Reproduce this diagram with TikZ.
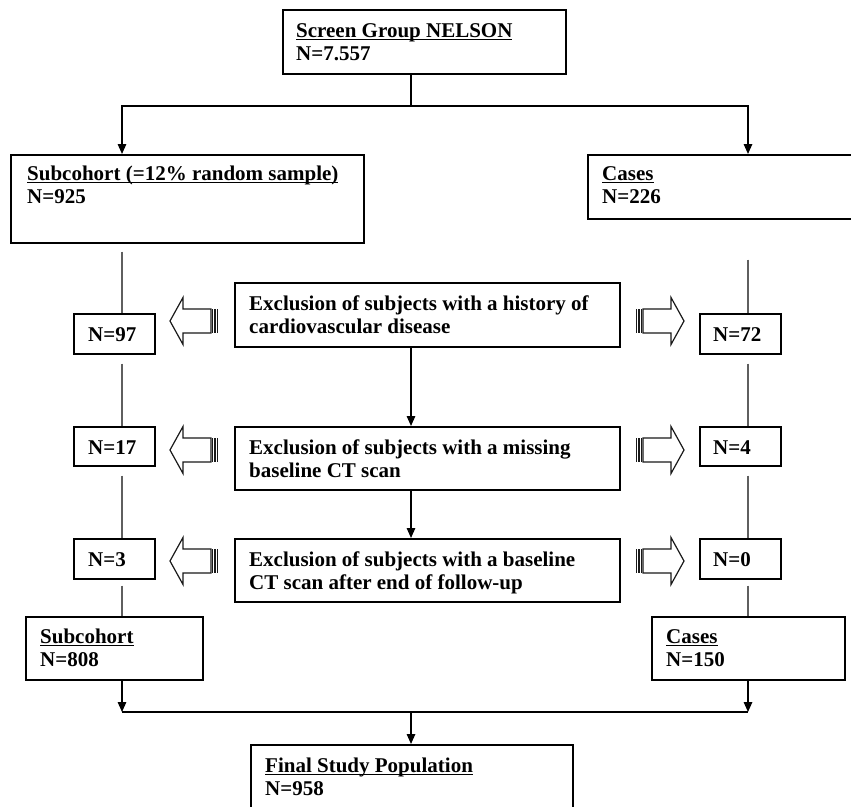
\documentclass[tikz,border=0pt]{standalone}
\usepackage{fontspec}
\setmainfont{Liberation Serif}
\usetikzlibrary{arrows.meta,calc}
\newcommand\myul[1]{\setbox0\hbox{#1}\rlap{\rule[-3.2pt]{\wd0}{1.6pt}}\box0}
\newcommand\twolines[2]{\begin{tabular}[t]{@{}l@{}}#1\\#2\end{tabular}}
\definecolor{lgray}{RGB}{95,95,95}
\begin{document}
\begin{tikzpicture}[x=1pt,y=-1pt,
  box/.style={draw=black,line width=1.6pt,rectangle,inner sep=0pt,anchor=north west},
  txt/.style={inner sep=0pt,anchor=base west,font=\fontsize{21}{23.5}\selectfont\bfseries},
  arr/.style={line width=1.5pt,-{Triangle[length=10pt,width=8.5pt]}},
  plainline/.style={line width=1.4pt},
  grayline/.style={draw=lgray,line width=1.1pt},
  hollow/.style={draw=black!90,line width=1.2pt,fill=white,line join=miter},
  stripe/.style={draw=black!90,line width=1.4pt},
  hollowL/.pic={
    \draw[hollow] (0,0) -- (13,-23.5) -- (13,-12) -- (41,-12) -- (41,12) -- (13,12) -- (13,23.5) -- cycle;
    \foreach \s in {42.5,45,47.5} \draw[stripe] (\s,-12) -- (\s,12);
  },
  hollowR/.pic={
    \draw[hollow] (0,0) -- (-13,-23.5) -- (-13,-12) -- (-41,-12) -- (-41,12) -- (-13,12) -- (-13,23.5) -- cycle;
    \foreach \s in {42.5,45,47.5} \draw[stripe] (-\s,-12) -- (-\s,12);
  }
]
\useasboundingbox (0,0) rectangle (851,806);
\clip (0,0) rectangle (851,806);

% boxes
\node[box,minimum width=283pt,minimum height=64pt] (top) at (282,9) {};
\node[box,minimum width=353pt,minimum height=88pt] (sub1) at (10,154) {};
\node[box,minimum width=290pt,minimum height=64pt] (cas1) at (587,154) {};
\node[box,minimum width=81pt,minimum height=40pt] (n97) at (73,313) {};
\node[box,minimum width=81pt,minimum height=39pt] (n17) at (73,426) {};
\node[box,minimum width=81pt,minimum height=40pt] (n3) at (73,538) {};
\node[box,minimum width=81pt,minimum height=40pt] (n72) at (699,313) {};
\node[box,minimum width=81pt,minimum height=39pt] (n4) at (699,426) {};
\node[box,minimum width=81pt,minimum height=40pt] (n0) at (699,538) {};
\node[box,minimum width=385pt,minimum height=64pt] (ex1) at (234,282) {};
\node[box,minimum width=385pt,minimum height=63pt] (ex2) at (234,426) {};
\node[box,minimum width=385pt,minimum height=63pt] (ex3) at (234,538) {};
\node[box,minimum width=177pt,minimum height=63pt] (sub2) at (25,616) {};
\node[box,minimum width=193pt,minimum height=63pt] (cas2) at (651,616) {};
\node[box,minimum width=322pt,minimum height=90pt] (fin) at (250,744) {};

% texts
\node[txt] (toptxt) at (296,37) {\twolines{\myul{Screen Group NELSON}}{N=7.557}};
\node[txt] (sub1txt) at (27,180) {\twolines{\myul{Subcohort (=12\% random sample)}}{N=925}};
\node[txt] (cas1txt) at (602,180) {\twolines{\myul{Cases}}{N=226}};
\node[txt] (n97txt) at (88,341) {N=97};
\node[txt] (n17txt) at (88,454) {N=17};
\node[txt] (n3txt) at (88,566) {N=3};
\node[txt] (n72txt) at (713,341) {N=72};
\node[txt] (n4txt) at (713,454) {N=4};
\node[txt] (n0txt) at (713,566) {N=0};
\node[txt] (ex1txt) at (249,310) {\twolines{Exclusion of subjects with a history of}{cardiovascular disease}};
\node[txt] (ex2txt) at (249,454) {\twolines{Exclusion of subjects with a missing}{baseline CT scan}};
\node[txt] (ex3txt) at (249,566) {\twolines{Exclusion of subjects with a baseline}{CT scan after end of follow-up}};
\node[txt] (sub2txt) at (40,643) {\twolines{\myul{Subcohort}}{N=808}};
\node[txt] (cas2txt) at (666,643) {\twolines{\myul{Cases}}{N=150}};
\node[txt] (fintxt) at (265,772) {\twolines{\myul{Final Study Population}}{N=958}};

% reference coordinates
\coordinate (split) at (411,106);
\coordinate (join) at (411,712);
\coordinate (lcol) at (122,0);
\coordinate (rcol) at (748,0);

% top branch
\draw[plainline] (top.south -| split) -- (split);
\draw[arr] (split) -| (sub1.north -| lcol);
\draw[arr] (split) -| (cas1.north -| rcol);

% gray column lines
\draw[grayline] ($(sub1.south -| lcol)+(0,8)$) -- (n97.north -| lcol);
\draw[grayline] ($(n97.south -| lcol)+(0,9)$) -- (n17.north -| lcol);
\draw[grayline] ($(n17.south -| lcol)+(0,9)$) -- (n3.north -| lcol);
\draw[grayline] ($(n3.south -| lcol)+(0,6)$) -- (sub2.north -| lcol);
\draw[grayline] ($(cas1.south -| rcol)+(0,40)$) -- (n72.north -| rcol);
\draw[grayline] ($(n72.south -| rcol)+(0,9)$) -- (n4.north -| rcol);
\draw[grayline] ($(n4.south -| rcol)+(0,9)$) -- (n0.north -| rcol);
\draw[grayline] ($(n0.south -| rcol)+(0,6)$) -- (cas2.north -| rcol);

% central arrows
\draw[arr] (ex1.south -| split) -- (ex2.north -| split);
\draw[arr] (ex2.south -| split) -- (ex3.north -| split);

% hollow arrows
\pic at (170,321) {hollowL};
\pic at (170,450) {hollowL};
\pic at (170,561) {hollowL};
\pic at (684,321) {hollowR};
\pic at (684,450) {hollowR};
\pic at (684,561) {hollowR};

% bottom join
\draw[arr] (sub2.south -| lcol) -- (join -| lcol);
\draw[arr] (cas2.south -| rcol) -- (join -| rcol);
\draw[plainline] (join -| lcol) -- (join -| rcol);
\draw[arr] (join) -- (fin.north -| join);
\end{tikzpicture}
\end{document}
